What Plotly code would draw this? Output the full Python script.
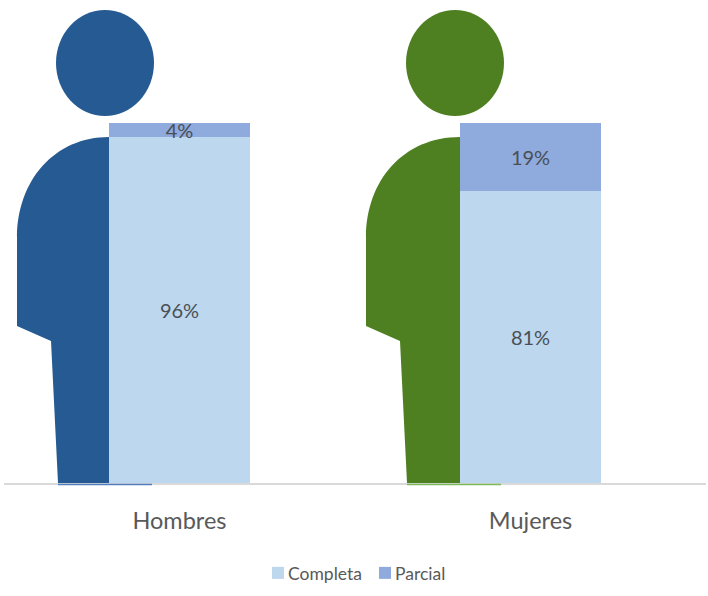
import plotly.graph_objects as go

categories = ["Hombres", "Mujeres"]
completa = [96, 81]
parcial = [4, 19]

W, H = 708, 596
L, R, T, B = 4, 2, 123, 113
TEXT = "#595959"
BLUE = "#255A92"
GREEN = "#4E8022"
FONT = "Lato, 'Noto Sans', sans-serif"


def fx(px):
    return (px - L) / (W - L - R)


def fy(py):
    return (H - B - py) / (H - T - B)


def person_shapes(dx, right, color, line_color, head_cx, head_rx, head_ry):
    p = lambda x, y: f"{fx(x + dx):.5f},{fy(y):.5f}"
    q = lambda x, y: f"{fx(x):.5f},{fy(y):.5f}"
    path = (
        f"M{q(right, 137)} "
        f"C{p(55, 137)} {p(17, 180)} {p(17, 238)} "
        f"L{p(17, 326)} L{p(51, 341)} L{p(58, 483)} L{q(right, 483)} Z"
    )
    return [
        dict(type="circle", xref="paper", yref="paper", layer="above",
             x0=fx(head_cx - head_rx), x1=fx(head_cx + head_rx),
             y0=fy(63 + head_ry), y1=fy(63 - head_ry),
             fillcolor=color, line=dict(width=0)),
        dict(type="path", xref="paper", yref="paper", layer="above", path=path,
             fillcolor=color, line=dict(width=0)),
        dict(type="line", xref="paper", yref="paper", layer="above",
             x0=fx(58 + dx), x1=fx(152 + dx), y0=fy(484.5), y1=fy(484.5),
             line=dict(color=line_color, width=1.5)),
    ]


fig = go.Figure()
fig.add_bar(
    name="Completa", x=categories, y=completa,
    marker=dict(color="#BDD7EE", line=dict(width=0)),
    text=[f"{v}%" for v in completa],
)
fig.add_bar(
    name="Parcial", x=categories, y=parcial,
    marker=dict(color="#8FAADC", line=dict(width=0)),
    text=[f"{v}%" for v in parcial],
)
fig.update_traces(
    textposition="inside", insidetextanchor="middle", textangle=0,
    constraintext="none", insidetextfont=dict(color="#4A4F55", size=20, family=FONT),
    hoverinfo="skip",
)

fig.update_layout(
    width=W, height=H,
    margin=dict(l=L, r=R, t=T, b=B, pad=0),
    barmode="stack", bargap=0.6,
    plot_bgcolor="white", paper_bgcolor="white",
    font=dict(family=FONT, color=TEXT),
    xaxis=dict(
        type="category", showgrid=False, zeroline=False, ticks="",
        showline=True, linecolor="#D9D9D9", linewidth=2,
        tickfont=dict(size=23.5, color=TEXT, family=FONT), ticklabelstandoff=16,
    ),
    yaxis=dict(range=[0, 100], visible=False),
    legend=dict(
        orientation="h", x=fx(248), xanchor="left", y=-0.25, yanchor="middle",
        font=dict(size=17.5, color=TEXT, family=FONT), itemwidth=30,
        entrywidth=62, entrywidthmode="pixels",
        traceorder="normal", bgcolor="rgba(0,0,0,0)",
    ),
    shapes=person_shapes(0, 109, BLUE, "#4F7FBF", 105, 49, 53)
    + person_shapes(349, 460, GREEN, "#7DB95A", 455, 49, 53),
)

post = """
document.body.style.margin = '0';
document.querySelectorAll('.legendsymbols').forEach(function (g) {
  g.setAttribute('transform', 'translate(10,0)');
});
"""
fig.write_html("out.html", config=dict(displayModeBar=False), post_script=post)
